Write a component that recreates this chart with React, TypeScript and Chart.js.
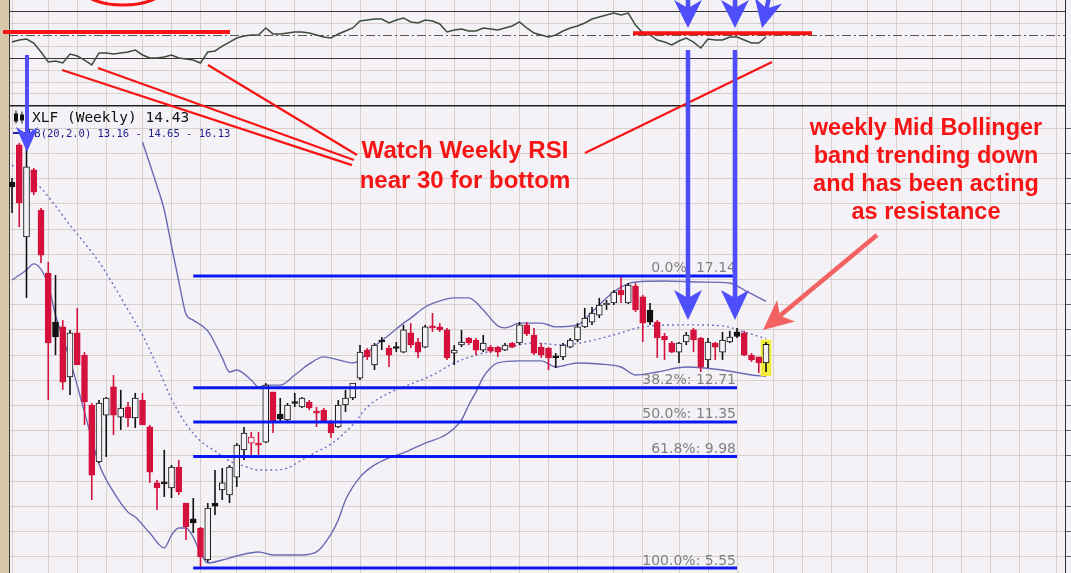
import React, { useEffect, useRef } from 'react';
import { Chart, registerables } from 'chart.js';

Chart.register(...registerables);

const W = 1071;
const H = 573;

// ---------------- data ----------------
// weekly bars, week index 0 = week of 2008-09-01
const monthStartWeeks = [0, 5, 9, 13, 18, 22, 26, 31, 35, 39, 44, 48, 53, 57, 61, 66, 70, 74, 78, 83, 87, 92, 96, 100, 105, 109, 113, 118, 122, 127, 131, 135, 139, 144];
const monthLabels = ['Sep', 'Oct', 'Nov', 'Dec', '2009', 'Feb', 'Mar', 'Apr', 'May', 'Jun', 'Jul', 'Aug', 'Sep', 'Oct', 'Nov', 'Dec', '2010', 'Feb', 'Mar', 'Apr', 'May', 'Jun', 'Jul', 'Aug', 'Sep', 'Oct', 'Nov', 'Dec', '2011', 'Feb', 'Mar', 'Apr', 'May', 'Jun'];

const opens = [
  20.87, 22.34, 18.69, 21.35, 19.76, 17.26, 15.31, 15.12, 13.13, 14.88,
  14.0, 12.02, 9.76, 11.62, 12.74, 11.54, 11.94, 11.51, 12.22, 11.15,
  8.93, 8.97, 8.73, 9.56, 8.13, 7.5, 7.14, 5.87, 8.13, 8.65,
  8.45, 9.16, 10.24, 10.51, 10.51, 10.55, 12.54, 11.66, 11.43, 12.14,
  11.94, 12.14, 11.78, 11.82, 11.35, 11.15, 12.02, 12.3, 13.09, 14.2,
  13.61, 14.6, 14.28, 14.32, 14.12, 14.88, 14.52, 14.32, 15.16, 15.12,
  15.0, 14.08, 14.4, 14.68, 14.6, 14.2, 14.32, 14.32, 14.2, 14.48,
  14.48, 15.2, 14.8, 14.32, 14.28, 13.96, 13.93, 14.32, 14.6, 15.12,
  15.31, 15.59, 15.99, 16.07, 16.58, 16.07, 16.74, 16.31, 15.79, 15.31,
  14.76, 14.48, 14.12, 14.52, 15.0, 14.68, 13.81, 14.48, 14.12, 14.52,
  14.92, 14.88, 14.0, 13.93, 13.69,
];
const highs = [
  21.03, 22.42, 22.42, 21.43, 19.84, 17.7, 17.18, 15.39, 15.0, 15.87,
  14.12, 12.1, 12.22, 12.34, 13.21, 12.62, 12.14, 12.5, 12.5, 11.23,
  9.04, 10.24, 9.64, 9.84, 8.13, 8.33, 7.18, 8.13, 9.44, 9.52,
  9.64, 10.51, 11.15, 10.95, 10.95, 12.89, 12.54, 12.3, 12.1, 12.5,
  12.34, 12.22, 11.94, 11.9, 11.43, 12.22, 12.62, 12.89, 14.4, 14.28,
  14.48, 14.72, 14.4, 14.52, 15.2, 15.27, 14.68, 15.2, 15.67, 15.27,
  15.08, 14.4, 15.0, 14.72, 14.68, 14.8, 14.4, 14.36, 14.48, 14.52,
  15.31, 15.31, 15.08, 14.48, 14.32, 14.08, 14.48, 14.68, 15.27, 15.87,
  15.91, 16.27, 16.19, 16.58, 17.14, 16.86, 16.86, 16.39, 16.07, 15.39,
  14.88, 14.56, 14.52, 14.92, 15.08, 14.72, 14.68, 14.52, 14.92, 14.96,
  15.08, 14.96, 14.08, 13.93, 14.52,
];
const lows = [
  19.64, 19.08, 16.27, 20.35, 17.66, 12.22, 14.0, 12.62, 12.42, 13.61,
  11.23, 8.25, 9.72, 9.96, 10.83, 11.03, 11.15, 11.11, 11.23, 8.93,
  7.85, 8.37, 8.33, 8.45, 6.66, 6.94, 5.55, 5.79, 7.66, 8.25,
  8.13, 8.77, 9.84, 9.92, 9.96, 10.51, 10.91, 11.35, 11.35, 11.94,
  11.9, 11.82, 11.15, 11.31, 10.71, 11.11, 11.74, 12.22, 13.01, 13.81,
  13.41, 14.2, 13.53, 14.12, 14.08, 14.28, 13.89, 14.28, 14.92, 14.92,
  13.81, 13.61, 14.32, 14.4, 14.0, 14.12, 14.08, 13.93, 14.16, 14.28,
  14.4, 14.76, 14.0, 13.89, 13.41, 13.49, 13.81, 14.28, 14.52, 15.08,
  15.2, 15.47, 15.79, 15.99, 16.07, 16.03, 15.71, 14.52, 15.2, 13.89,
  13.81, 14.08, 13.69, 14.4, 14.12, 13.33, 13.49, 13.81, 13.81, 14.48,
  14.68, 13.96, 13.73, 13.29, 13.33,
];
const closes = [
  20.67, 20.04, 21.47, 20.47, 17.97, 14.48, 14.72, 12.93, 14.88, 13.61,
  12.14, 9.24, 12.1, 12.3, 11.62, 11.9, 11.51, 12.3, 11.23, 9.36,
  8.73, 8.89, 9.56, 8.57, 7.18, 7.34, 5.99, 7.93, 8.01, 8.93,
  9.56, 10.43, 10.91, 10.75, 10.43, 12.81, 11.35, 11.47, 12.02, 12.1,
  12.3, 11.9, 11.7, 11.35, 10.91, 12.02, 12.3, 12.89, 14.12, 13.93,
  14.4, 14.52, 14.0, 14.28, 15.0, 14.4, 14.12, 15.12, 15.08, 15.0,
  13.89, 14.2, 14.52, 14.48, 14.2, 14.48, 14.16, 14.12, 14.4, 14.32,
  15.2, 14.84, 14.08, 14.0, 13.89, 13.91, 14.4, 14.6, 15.12, 15.47,
  15.67, 15.99, 16.07, 16.5, 16.39, 16.78, 15.79, 15.27, 15.31, 14.68,
  14.6, 14.12, 14.48, 14.8, 14.6, 13.53, 14.52, 14.32, 14.6, 14.72,
  14.74, 14.0, 13.81, 13.69, 14.43,
];
const rsi14 = [
  44.0, 45.7, 46.6, 43.2, 35.5, 27.0, 27.9, 26.2, 33.8, 32.1,
  28.7, 24.5, 34.7, 34.7, 33.8, 34.7, 35.5, 37.2, 33.0, 30.4,
  30.4, 31.3, 33.0, 30.4, 29.6, 28.7, 26.2, 35.5, 36.4, 40.6,
  44.0, 47.4, 49.1, 50.0, 50.0, 56.0, 50.9, 50.9, 51.7, 52.6,
  52.6, 51.7, 50.0, 48.3, 47.4, 50.9, 53.4, 56.0, 61.9, 62.8,
  63.6, 63.6, 60.2, 62.8, 64.5, 61.1, 60.2, 62.8, 61.9, 59.4,
  52.6, 54.3, 55.1, 53.4, 53.4, 56.0, 55.1, 54.3, 56.0, 57.7,
  61.1, 56.0, 51.7, 50.0, 48.3, 50.0, 53.4, 56.0, 57.7, 60.2,
  63.6, 65.3, 67.0, 68.7, 67.0, 68.7, 58.5, 51.7, 50.0, 45.7,
  44.0, 41.5, 44.9, 47.4, 44.0, 38.9, 46.6, 45.7, 45.7, 48.3,
  48.3, 45.7, 43.2, 43.2, 48.3,
];

// Bollinger bands (20, 2.0): [week index, value]
const bbUpper: [number, number][] = [
  [18, 22.46], [20, 20.71], [21, 19.76], [22, 18.33], [23, 16.94], [24, 15.63], [25, 15.39], [27, 14.96],
  [29, 13.89], [30, 13.33], [31, 13.41], [33, 13.01], [34, 12.73], [35, 12.81], [37, 12.81], [39, 13.21],
  [41, 13.65], [43, 13.93], [45, 13.81], [47, 13.69], [50, 14.36], [52, 14.8], [54, 15.27], [55, 15.47],
  [57, 15.91], [59, 16.15], [61, 16.27], [63, 16.27], [65, 15.79], [67, 15.16], [68, 15.08], [70, 15.27],
  [73, 15.27], [75, 15.12], [78, 15.2], [80, 15.71], [82, 16.27], [84, 16.7], [86, 16.9], [90, 16.94],
  [95, 16.9], [99, 16.86], [101, 16.58], [104, 16.13],
];
const bbMiddle: [number, number][] = [
  [0, 21.54], [2, 21.11], [4, 20.63], [6, 19.92], [8, 19.16], [10, 18.45], [12, 17.7], [14, 16.78],
  [16, 15.79], [18, 14.8], [20, 13.57], [22, 12.26], [24, 11.27], [26, 10.59], [28, 10.2], [30, 9.8],
  [32, 9.6], [34, 9.44], [36, 9.44], [38, 9.52], [40, 9.84], [42, 10.16], [44, 10.47], [47, 11.23],
  [49, 11.94], [52, 12.5], [55, 12.85], [58, 13.21], [61, 13.69], [64, 14.0], [68, 14.28], [72, 14.48],
  [76, 14.4], [79, 14.52], [83, 14.8], [87, 15.12], [93, 15.2], [98, 15.16], [101, 14.92], [104, 14.65],
];
const bbLower: [number, number][] = [
  [0, 16.98], [2, 17.38], [3, 17.62], [5, 16.78], [6, 15.59], [8, 13.81], [10, 11.74], [12, 9.68],
  [14, 8.57], [16, 7.77], [17, 7.58], [19, 6.94], [21, 6.35], [22, 6.86], [23, 7.14], [24, 7.14],
  [25, 6.78], [26, 6.15], [27, 5.75], [29, 5.87], [31, 6.03], [34, 6.19], [36, 6.07], [40, 6.07],
  [42, 6.19], [44, 6.9], [45, 7.46], [46, 8.25], [48, 9.16], [50, 9.64], [52, 9.92], [54, 10.12],
  [57, 10.51], [60, 10.87], [62, 11.43], [63, 12.02], [64, 12.54], [65, 13.13], [66, 13.49], [67, 13.69],
  [70, 13.77], [73, 13.77], [75, 13.53], [78, 13.69], [81, 13.65], [84, 13.53], [86, 13.21], [89, 13.33],
  [93, 13.53], [98, 13.41], [102, 13.21], [104, 13.16],
];

// Fibonacci retracement
const fibPct = [0, 38.2, 50, 61.8, 100];
const fibPrice = [17.14, 12.71, 11.35, 9.98, 5.55];
const fibFromWeek = 25;
const fibToWeek = 100;

// axis ticks
const priceTicks = [6, 7, 8, 9, 10, 11, 12, 13, 14, 15, 16, 17, 18, 19, 20, 21, 22, 23];
const rsiTicks = [-10, 0, 10, 20, 30, 40, 50, 60, 70, 80];

// ---------------- layout / style ----------------
const X_MIN = -0.414;
const X_MAX = 145.24;
const P_MIN = 5.354;
const P_MAX = 28.092;
const R_MIN = -407.87;
const R_MAX = 79.79;

const PANEL_BG = '#f4f2f6';
const FRAME_TAN = '#d8c8aa';
const GRID = '#d8d0c8';
const RED = '#d4103c';
const BLACK = '#111111';
const BB_COLOR = '#6a6ab4';
const FIB_BLUE = '#0a18f0';
const ANN_RED = '#f71414';
const ARROW_BLUE = 'rgb(78,78,250)';
const ARROW_CORAL = 'rgb(243,98,98)';

function drawArrow(ctx: CanvasRenderingContext2D, x1: number, y1: number, x2: number, y2: number,
  color: string, lw: number, headLen: number, headW: number, notch: number) {
  const dx = x2 - x1;
  const dy = y2 - y1;
  const len = Math.hypot(dx, dy);
  const ux = dx / len;
  const uy = dy / len;
  const px = -uy;
  const py = ux;
  const bx = x2 - ux * headLen;
  const by = y2 - uy * headLen;
  const nx = x2 - ux * (headLen - notch);
  const ny = y2 - uy * (headLen - notch);
  ctx.strokeStyle = color;
  ctx.fillStyle = color;
  ctx.lineWidth = lw;
  ctx.lineCap = 'butt';
  ctx.beginPath();
  ctx.moveTo(x1, y1);
  ctx.lineTo(nx, ny);
  ctx.stroke();
  ctx.beginPath();
  ctx.moveTo(x2, y2);
  ctx.lineTo(bx + (px * headW) / 2, by + (py * headW) / 2);
  ctx.lineTo(nx, ny);
  ctx.lineTo(bx - (px * headW) / 2, by - (py * headW) / 2);
  ctx.closePath();
  ctx.fill();
}

function seg(ctx: CanvasRenderingContext2D, x1: number, y1: number, x2: number, y2: number) {
  ctx.beginPath();
  ctx.moveTo(x1, y1);
  ctx.lineTo(x2, y2);
  ctx.stroke();
}

const overlayPlugin = {
  id: 'overlay',
  beforeDraw(chart: any) {
    const { ctx, chartArea: a, width, height } = chart;
    ctx.save();
    ctx.fillStyle = PANEL_BG;
    ctx.fillRect(0, 0, width, height);
    ctx.fillStyle = FRAME_TAN;
    ctx.fillRect(0, 0, a.left, height);
    ctx.restore();
  },
  beforeDatasetsDraw(chart: any) {
    const { ctx, chartArea: a, scales } = chart;
    const yr = scales.yR;
    ctx.save();
    const y50 = Math.round(yr.getPixelForValue(50)) + 0.5;
    ctx.strokeStyle = '#5e5650';
    ctx.lineWidth = 1;
    ctx.setLineDash([9, 3, 2, 3]);
    seg(ctx, a.left, y50, a.right, y50);
    ctx.setLineDash([]);
    ctx.strokeStyle = '#3a3a3a';
    seg(ctx, a.left + 0.5, 0, a.left + 0.5, a.bottom);
    ctx.restore();
  },
  afterDatasetsDraw(chart: any) {
    const { ctx, chartArea: a, scales } = chart;
    const xs = scales.x;
    const ys = scales.y;
    const yr = scales.yR;
    const X = (v: number) => xs.getPixelForValue(v);
    const PY = (v: number) => ys.getPixelForValue(v);
    const RY = (v: number) => yr.getPixelForValue(v);
    ctx.save();

    // Fibonacci labels
    ctx.font = '14px "DejaVu Sans"';
    ctx.fillStyle = '#808080';
    ctx.textAlign = 'right';
    ctx.textBaseline = 'alphabetic';
    fibPct.forEach((p, k) => {
      ctx.fillText(`${p.toFixed(1)}%: ${fibPrice[k].toFixed(2)}`, X(fibToWeek) - 1, PY(fibPrice[k]) - 3.5);
    });

    // legend
    const top = RY(-10);
    const last = closes.length - 1;
    ctx.textAlign = 'left';
    ctx.fillStyle = '#111';
    ctx.fillRect(a.left + 5, top + 8, 4, 8);
    ctx.fillRect(a.left + 6.5, top + 5, 1, 13);
    ctx.fillRect(a.left + 11, top + 9, 4, 6);
    ctx.fillRect(a.left + 12.5, top + 6, 1, 12);
    ctx.font = '14.5px "DejaVu Sans Mono"';
    ctx.fillText(`XLF (Weekly) ${closes[last].toFixed(2)}`, a.left + 23, top + 16);
    ctx.strokeStyle = '#2424a0';
    ctx.lineWidth = 2;
    seg(ctx, a.left + 4, top + 27.5, a.left + 16, top + 27.5);
    ctx.fillStyle = '#1c1c8c';
    ctx.font = '10.5px "DejaVu Sans Mono"';
    const lo = bbLower[bbLower.length - 1][1];
    const mid = bbMiddle[bbMiddle.length - 1][1];
    const up = bbUpper[bbUpper.length - 1][1];
    ctx.fillText(`BB(20,2.0) ${lo.toFixed(2)} - ${mid.toFixed(2)} - ${up.toFixed(2)}`, a.left + 19, top + 31.5);

    // red annotation lines
    ctx.strokeStyle = ANN_RED;
    ctx.lineCap = 'butt';
    ctx.lineWidth = 4;
    seg(ctx, X(-1.24), RY(52.5), X(30.07), RY(52.5));
    seg(ctx, X(85.66), RY(51.5), X(110.34), RY(51.5));
    ctx.lineWidth = 2.2;
    seg(ctx, X(6.9), RY(20.2), X(46.9), PY(21.54));
    seg(ctx, X(11.86), RY(21.9), X(47.17), PY(21.74));
    seg(ctx, X(27.03), RY(24.5), X(47.59), PY(21.94));
    seg(ctx, X(79.03), PY(22.02), X(104.83), RY(27.0));
    ctx.lineWidth = 3;
    ctx.beginPath();
    ctx.ellipse(X(15.31), RY(90), 41, 17, 0, 0, Math.PI * 2);
    ctx.stroke();

    // blue arrows
    drawArrow(ctx, X(2.07), RY(33), X(2.07), PY(22.06), ARROW_BLUE, 4, 25, 22, 7);
    drawArrow(ctx, X(93.24), RY(37.2), X(93.24), PY(15.39), ARROW_BLUE, 4.5, 30, 28, 8);
    drawArrow(ctx, X(99.72), RY(37.2), X(99.72), PY(15.39), ARROW_BLUE, 4.5, 30, 28, 8);
    drawArrow(ctx, X(93.24), RY(100), X(93.24), RY(56), ARROW_BLUE, 4.5, 28, 28, 8);
    drawArrow(ctx, X(99.72), RY(100), X(99.72), RY(56), ARROW_BLUE, 4.5, 28, 28, 8);
    drawArrow(ctx, X(105.1), RY(100), X(103.45), RY(56), ARROW_BLUE, 4.5, 28, 28, 8);

    // coral arrow
    drawArrow(ctx, X(119.31), PY(18.77), X(103.59), PY(15.0), ARROW_CORAL, 4.5, 30, 28, 8);

    // texts
    ctx.fillStyle = ANN_RED;
    ctx.textAlign = 'center';
    ctx.font = 'bold 24px "Liberation Sans", Arial, sans-serif';
    ctx.fillText('Watch Weekly RSI', X(62.48), PY(21.82));
    ctx.fillText('near 30 for bottom', X(62.48), PY(20.63));
    ctx.font = 'bold 23.5px "Liberation Sans", Arial, sans-serif';
    ctx.fillText('weekly Mid Bollinger', X(126.07), PY(22.73));
    ctx.fillText('band trending down', X(126.07), PY(21.62));
    ctx.fillText('and has been acting', X(126.07), PY(20.51));
    ctx.fillText('as resistance', X(126.07), PY(19.40));

    ctx.restore();
  },
};

function buildConfig(): any {
  const n = closes.length;
  const idx = closes.map((_, i) => i);
  const color = idx.map((i) => (i > 0 && closes[i] < closes[i - 1] ? RED : BLACK));
  const fill = idx.map((i) => (closes[i] < opens[i] ? color[i] : PANEL_BG));
  const bodies = idx.map((i) => {
    let lo = Math.min(opens[i], closes[i]);
    let hi = Math.max(opens[i], closes[i]);
    if (hi - lo < 0.07) {
      const m = (hi + lo) / 2;
      lo = m - 0.035;
      hi = m + 0.035;
    }
    return { x: i, y: [lo, hi] };
  });
  const wicks = idx.map((i) => ({ x: i, y: [lows[i], highs[i]] }));
  const lastI = n - 1;
  const highlight = [{ x: lastI, y: [lows[lastI] - 0.15, highs[lastI] + 0.08] }];

  const pts = (arr: [number, number][]) => arr.map(([x, y]) => ({ x, y }));
  const bbLine = (data: any[], dash: number[] | undefined) => ({
    type: 'line',
    data,
    borderColor: dash ? '#6e6ec4' : BB_COLOR,
    borderWidth: 1.4,
    borderDash: dash,
    pointRadius: 0,
    cubicInterpolationMode: 'monotone',
    yAxisID: 'y',
    xAxisID: 'x',
    order: 4,
  });

  const fibSets = fibPrice.map((p) => ({
    type: 'line',
    data: [{ x: fibFromWeek, y: p }, { x: fibToWeek, y: p }],
    borderColor: FIB_BLUE,
    borderWidth: 3,
    pointRadius: 0,
    yAxisID: 'y',
    xAxisID: 'x',
    order: 0,
  }));

  return {
    type: 'line',
    data: {
      datasets: [
        ...fibSets,
        {
          type: 'bar',
          data: bodies,
          backgroundColor: fill,
          borderColor: color,
          borderWidth: 1,
          borderSkipped: false,
          barThickness: 6,
          grouped: false,
          yAxisID: 'y',
          xAxisID: 'x',
          order: 1,
        },
        {
          type: 'bar',
          data: wicks,
          backgroundColor: color,
          borderWidth: 0,
          barThickness: 1.6,
          inflateAmount: 0,
          grouped: false,
          yAxisID: 'y',
          xAxisID: 'x',
          order: 2,
        },
        {
          type: 'bar',
          data: highlight,
          backgroundColor: '#f4ec3c',
          borderWidth: 0,
          barThickness: 10,
          grouped: false,
          yAxisID: 'y',
          xAxisID: 'x',
          order: 3,
        },
        bbLine(pts(bbUpper), undefined),
        bbLine(pts(bbLower), undefined),
        bbLine(pts(bbMiddle), [2, 3]),
        {
          type: 'line',
          data: rsi14.map((v, i) => ({ x: i, y: v })),
          borderColor: '#3e4b3e',
          borderWidth: 1.5,
          pointRadius: 0,
          yAxisID: 'yR',
          xAxisID: 'x',
          order: 5,
        },
      ],
    },
    options: {
      animation: false,
      responsive: false,
      maintainAspectRatio: false,
      devicePixelRatio: 1,
      events: [],
      layout: { padding: { left: 9, right: 0, top: 0, bottom: 0 } },
      plugins: { legend: { display: false }, tooltip: { enabled: false } },
      scales: {
        x: {
          type: 'linear',
          min: X_MIN,
          max: X_MAX,
          offset: false,
          afterBuildTicks: (s: any) => {
            s.ticks = monthStartWeeks.map((v) => ({ value: v }));
          },
          ticks: {
            display: false,
            callback: (v: number) => monthLabels[monthStartWeeks.indexOf(v)] || '',
          },
          grid: { color: GRID, lineWidth: 1, drawTicks: false, offset: false },
          border: { display: false },
        },
        y: {
          type: 'linear',
          position: 'right',
          min: P_MIN,
          max: P_MAX,
          afterBuildTicks: (s: any) => {
            s.ticks = priceTicks.map((v) => ({ value: v }));
          },
          ticks: { display: false },
          grid: { color: GRID, lineWidth: 1, drawTicks: true, tickLength: 6, tickColor: '#666' },
          border: { display: true, color: '#303030', width: 1 },
        },
        yR: {
          type: 'linear',
          position: 'right',
          min: R_MIN,
          max: R_MAX,
          afterBuildTicks: (s: any) => {
            s.ticks = rsiTicks.map((v) => ({ value: v }));
          },
          ticks: { display: false },
          grid: {
            drawTicks: false,
            color: (c: any) => {
              const v = c.tick ? c.tick.value : 0;
              if (v === -10) return '#202020';
              if (v === 30 || v === 70) return '#3c3434';
              if (v === 50) return 'rgba(0,0,0,0)';
              return GRID;
            },
            lineWidth: (c: any) => (c.tick && c.tick.value === -10 ? 1.5 : 1),
          },
          border: { display: false },
        },
      },
    },
    plugins: [overlayPlugin],
  };
}

export default function App() {
  const ref = useRef<HTMLCanvasElement>(null);
  useEffect(() => {
    const canvas = ref.current;
    if (!canvas) return;
    const chart = new Chart(canvas, buildConfig());
    return () => chart.destroy();
  }, []);
  return (
    <div style={{ position: 'fixed', left: 0, top: 0, width: W, height: H, overflow: 'hidden', background: PANEL_BG }}>
      <canvas ref={ref} width={W} height={H} style={{ display: 'block', width: W, height: H }} />
    </div>
  );
}
